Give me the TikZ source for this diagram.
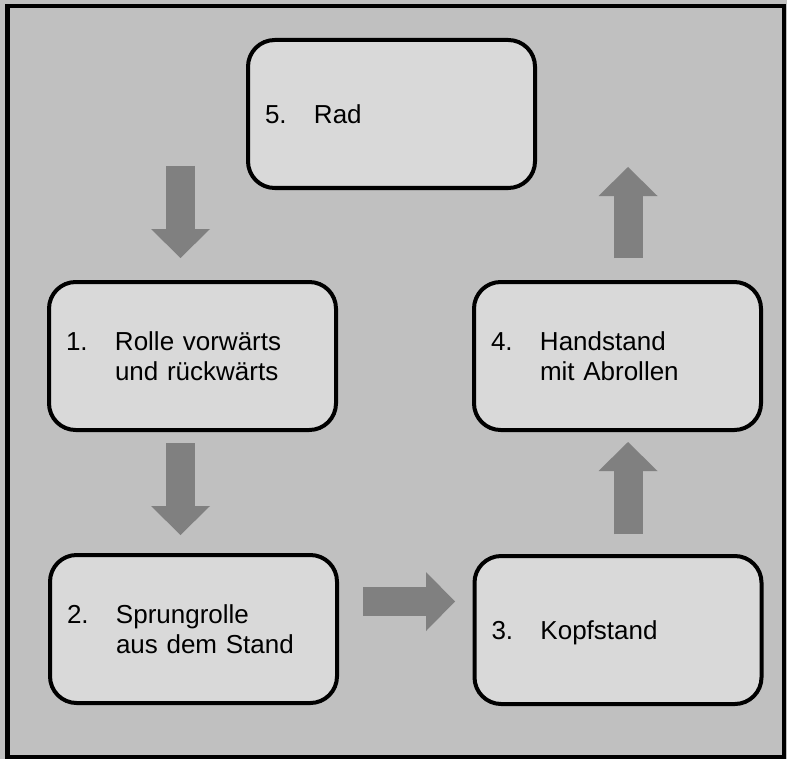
\documentclass[tikz,border=0pt]{standalone}
\usepackage{fontspec}
\setmainfont{Liberation Sans}
\usetikzlibrary{arrows.meta}
\definecolor{bggray}{HTML}{C0C0C0}
\definecolor{boxgray}{HTML}{D9D9D9}
\definecolor{arrowgray}{HTML}{808080}
\newcommand{\stepno}[1]{\makebox[36.75pt][l]{#1}}

\begin{document}
\begin{tikzpicture}[x=0.75pt,y=-0.75pt,
  box/.style={draw,line width=3pt,rounded corners=20pt,fill=boxgray,
    minimum width=215.25pt,minimum height=111pt,text width=189.75pt,
    inner xsep=12.75pt,align=left,font=\fontsize{19.5pt}{22.4pt}\selectfont},
  bigarrow/.style={draw=arrowgray,line width=21.75pt,
    -{Triangle[width=44.25pt,length=21.75pt,line width=0pt]}}]

\fill[bggray] (0,0) rectangle (787,759);
\draw[line width=3.4pt] (7.5,6) rectangle (784,757);

\node[box] (b5) at (391.5,114) {\stepno{5.}Rad};
\node[box] (b1) at (192.5,356) {\stepno{1.}Rolle vorwärts\\\stepno{}und rückwärts};
\node[box] (b2) at (193.5,629) {\stepno{2.}Sprungrolle\\\stepno{}aus dem Stand};
\node[box,text depth=0pt] (b3) at (618,630) {\stepno{3.}Kopfstand};
\node[box] (b4) at (617.5,356) {\stepno{4.}Handstand\\\stepno{}mit Abrollen};

\coordinate (a1s) at (180.5,166);
\coordinate (a1e) at (180.5,258);
\coordinate (a2s) at (180.5,443);
\coordinate (a2e) at (180.5,535);
\coordinate (a3s) at (363,601.5);
\coordinate (a3e) at (455,601.5);
\coordinate (a4s) at (628,534);
\coordinate (a4e) at (628,442);
\coordinate (a5s) at (628,258);
\coordinate (a5e) at (628,167);

\draw[bigarrow] (a1s) -- (a1e);
\draw[bigarrow] (a2s) -- (a2e);
\draw[bigarrow] (a3s) -- (a3e);
\draw[bigarrow] (a4s) -- (a4e);
\draw[bigarrow] (a5s) -- (a5e);

\end{tikzpicture}
\end{document}
